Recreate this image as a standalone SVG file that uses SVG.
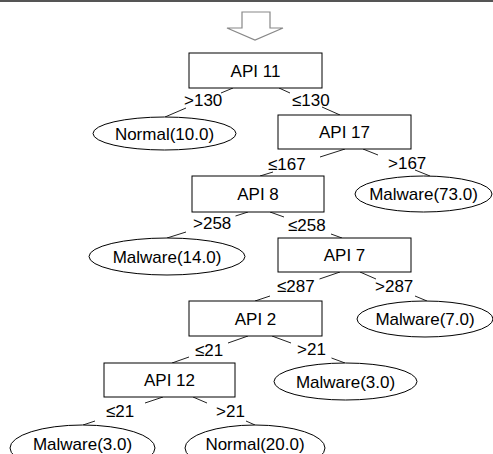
<svg xmlns="http://www.w3.org/2000/svg" width="493" height="454" viewBox="0 0 493 454">
<style>
text{font-family:"Liberation Sans",Arial,sans-serif;font-size:17px;fill:#000}
.n text{text-anchor:middle}
.n rect,.n ellipse{fill:#fff;stroke:#000;stroke-width:1}
#edges path{fill:none;stroke:#222;stroke-width:1}
</style>
<rect x="0" y="0" width="493" height="454" fill="#fff"/>
<rect x="0" y="0" width="493" height="2" fill="#555"/>
<polygon points="242,12 270,12 270,28 283,28 255,40 227,28 242,28" fill="#fff" stroke="#888" stroke-width="1.2"/>
<g id="edges">
<path d="M233,88 L221,93 M186,108 L165,117"/>
<path d="M279,88 L290,93 M322,107 L340,115"/>
<path d="M345,149 L320,157 M273,172 L260,176"/>
<path d="M363,149 L378,155 M415,170 L430,176"/>
<path d="M248,212 L235.5,216 M186,232 L167,238"/>
<path d="M270,212 L284,217 M331,234 L342,238"/>
<path d="M340,272 L319.5,279 M270,296 L255,301"/>
<path d="M360,272 L376,279 M415,296 L427,301"/>
<path d="M248,336 L228,343 M189,357 L172,363"/>
<path d="M272,336 L291,343 M331.5,358 L345,363"/>
<path d="M163,397 L145,403 M95,421 L83,425"/>
<path d="M193,397 L207,403 M246,421 L255,425"/>
<text x="184" y="106">&gt;130</text>
<text x="292" y="106">≤130</text>
<text x="268" y="170">≤167</text>
<text x="388" y="169">&gt;167</text>
<text x="193" y="229">&gt;258</text>
<text x="288" y="231">≤258</text>
<text x="277" y="292">≤287</text>
<text x="375" y="292">&gt;287</text>
<text x="195" y="356">≤21</text>
<text x="297" y="355">&gt;21</text>
<text x="106" y="417">≤21</text>
<text x="216" y="417">&gt;21</text>
</g>
<g id="api11" class="n"><rect x="189" y="53" width="133" height="35"/><text x="255.5" y="76.5">API 11</text></g>
<g id="normal10" class="n"><ellipse cx="164.5" cy="133.5" rx="71.5" ry="16.5"/><text x="164.5" y="139.5">Normal(10.0)</text></g>
<g id="api17" class="n"><rect x="278" y="115" width="133" height="34"/><text x="344.5" y="138">API 17</text></g>
<g id="malware73" class="n"><ellipse cx="423.5" cy="194" rx="68.5" ry="18"/><text x="423.5" y="200">Malware(73.0)</text></g>
<g id="api8" class="n"><rect x="192" y="176" width="132" height="36"/><text x="258" y="200">API 8</text></g>
<g id="malware14" class="n"><ellipse cx="167" cy="256.5" rx="78" ry="18.5"/><text x="167" y="262.5">Malware(14.0)</text></g>
<g id="api7" class="n"><rect x="278" y="238" width="133" height="34"/><text x="344.5" y="261">API 7</text></g>
<g id="malware7" class="n"><ellipse cx="425" cy="319" rx="68" ry="18"/><text x="425" y="325">Malware(7.0)</text></g>
<g id="api2" class="n"><rect x="189" y="301" width="133" height="35"/><text x="255.5" y="324.5">API 2</text></g>
<g id="malware3a" class="n"><ellipse cx="345.5" cy="381.5" rx="71.5" ry="18.5"/><text x="345.5" y="387.5">Malware(3.0)</text></g>
<g id="api12" class="n"><rect x="104" y="363" width="131" height="34"/><text x="169.5" y="386">API 12</text></g>
<g id="malware3b" class="n"><ellipse cx="82.5" cy="448" rx="72.5" ry="23"/><text x="82.5" y="450">Malware(3.0)</text></g>
<g id="normal20" class="n"><ellipse cx="255" cy="448" rx="70" ry="23"/><text x="255" y="450">Normal(20.0)</text></g>
</svg>
